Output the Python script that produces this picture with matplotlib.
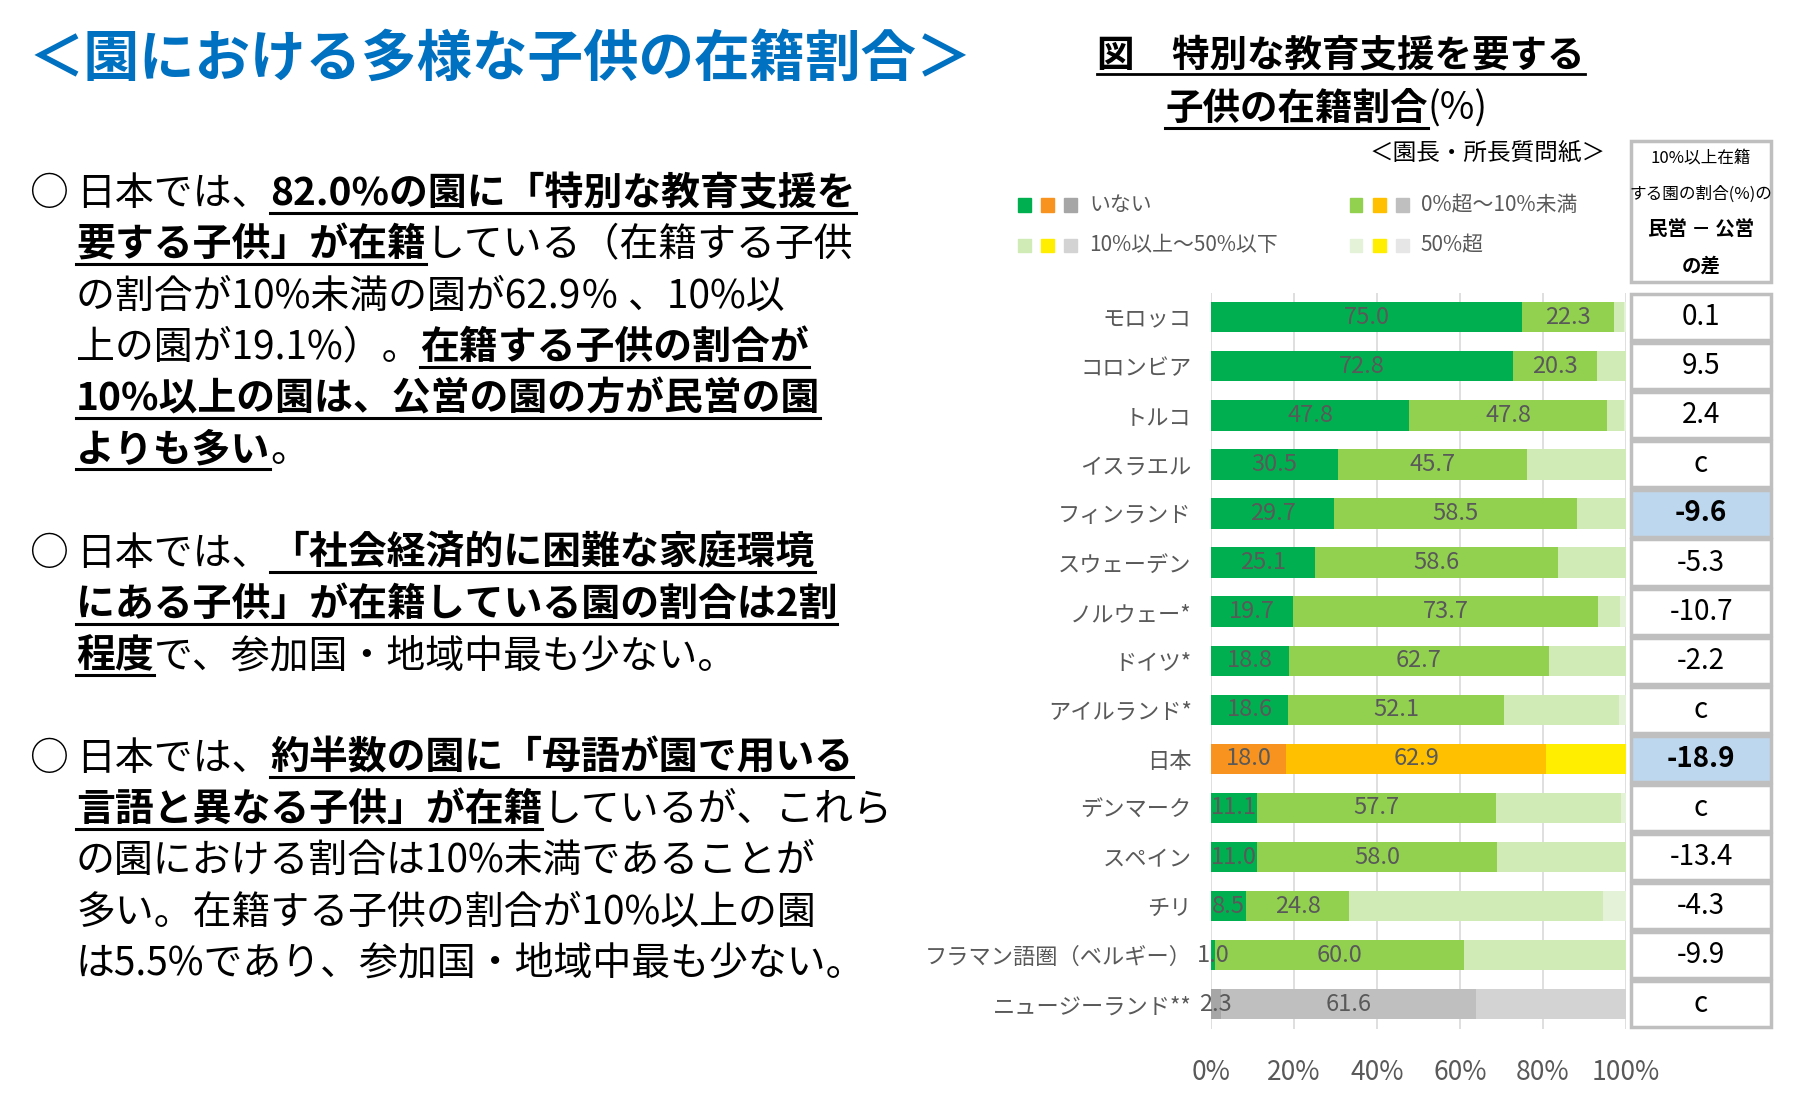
import matplotlib.pyplot as plt
from matplotlib.patches import Rectangle
from matplotlib.transforms import blended_transform_factory

plt.rcParams['font.family'] = ['Noto Sans CJK JP', 'DejaVu Sans']

countries = ["モロッコ", "コロンビア", "トルコ", "イスラエル", "フィンランド", "スウェーデン",
             "ノルウェー*", "ドイツ*", "アイルランド*", "日本", "デンマーク", "スペイン", "チリ",
             "フラマン語圏（ベルギー）", "ニュージーランド**"]
none_pct = [75.0, 72.8, 47.8, 30.5, 29.7, 25.1, 19.7, 18.8, 18.6, 18.0, 11.1, 11.0, 8.5, 1.0, 2.3]
under10 = [22.3, 20.3, 47.8, 45.7, 58.5, 58.6, 73.7, 62.7, 52.1, 62.9, 57.7, 58.0, 24.8, 60.0, 61.6]
from10to50 = [2.2, 6.9, 3.9, 23.8, 11.8, 16.3, 5.2, 18.5, 27.6, 0.0, 30.2, 31.0, 61.3, 39.0, 36.1]
over50 = [0.5, 0.0, 0.5, 0.0, 0.0, 0.0, 1.4, 0.0, 1.7, 19.1, 1.0, 0.0, 5.4, 0.0, 0.0]
diff_labels = ["0.1", "9.5", "2.4", "c", "-9.6", "-5.3", "-10.7", "-2.2", "c", "-18.9",
               "c", "-13.4", "-4.3", "-9.9", "c"]
highlight = ["フィンランド", "日本"]
x_ticks = [0, 20, 40, 60, 80, 100]

green = ["#00B050", "#92D050", "#D0EBB5", "#E4F2D8"]
japan = ["#F7931E", "#FFC000", "#FFEE00", "#FFEE00"]
grays = ["#A6A6A6", "#BFBFBF", "#D3D3D3", "#E6E6E6"]

W, H = 1560.0, 960.0
fig = plt.figure(figsize=(17.96, 11.06), dpi=100)
fig.patch.set_facecolor("white")
renderer = fig.canvas.get_renderer()


def fx(x):
    return x / W


def fy(y):
    return 1 - y / H


def runs(x, y, parts, size=28):
    # parts: list of (text, bold_underlined)
    cx = fx(x)
    for s, b in parts:
        t = fig.text(cx, fy(y), s, fontsize=size, fontweight="bold" if b else "normal",
                     va="baseline", ha="left", color="black")
        bb = t.get_window_extent(renderer).transformed(fig.transFigure.inverted())
        if b:
            fig.add_artist(plt.Line2D([cx, bb.x1], [fy(y) - 0.007] * 2, color="black",
                                      lw=2.2, transform=fig.transFigure))
        cx = bb.x1
    return cx


# left title
fig.text(fx(25), fy(52), "＜園における多様な子供の在籍割合＞", fontsize=40, fontweight="bold",
         color="#0070C0", va="center", ha="left")

paras = [
    (178, [[("日本では、", 0), ("82.0%の園に「特別な教育支援を", 1)],
           [("要する子供」が在籍", 1), ("している（在籍する子供", 0)],
           [("の割合が10%未満の園が62.9％ 、10%以", 0)],
           [("上の園が19.1%）。", 0), ("在籍する子供の割合が", 1)],
           [("10%以上の園は、公営の園の方が民営の園", 1)],
           [("よりも多い", 1), ("。", 0)]]),
    (490, [[("日本では、", 0), ("「社会経済的に困難な家庭環境", 1)],
           [("にある子供」が在籍している園の割合は2割", 1)],
           [("程度", 1), ("で、参加国・地域中最も少ない。", 0)]]),
    (668, [[("日本では、", 0), ("約半数の園に「母語が園で用いる", 1)],
           [("言語と異なる子供」が在籍", 1), ("しているが、これら", 0)],
           [("の園における割合は10%未満であることが", 0)],
           [("多い。在籍する子供の割合が10%以上の園", 0)],
           [("は5.5%であり、参加国・地域中最も少ない。", 0)]]),
]
for y0, lines in paras:
    fig.text(fx(25), fy(y0), "○", fontsize=28, va="baseline", ha="left")
    for i, parts in enumerate(lines):
        runs(66, y0 + i * 44.5, parts)

# chart title
t1 = fig.text(fx(1165), fy(58), "図　特別な教育支援を要する", fontsize=27, fontweight="bold",
              ha="center", va="baseline")
bb = t1.get_window_extent(renderer).transformed(fig.transFigure.inverted())
fig.add_artist(plt.Line2D([bb.x0, bb.x1], [fy(64)] * 2, color="black", lw=2,
                          transform=fig.transFigure))
end = runs(1012, 104, [("子供の在籍割合", 1)], size=27)
fig.text(end, fy(104), "(%)", fontsize=27, va="baseline", ha="left")
fig.text(fx(1292), fy(134), "＜園長・所長質問紙＞", fontsize=17, ha="center", va="center")

# legend
legend_items = [(890, 178, 0, "いない"), (1178, 178, 1, "0%超～10%未満"),
                (890, 213, 2, "10%以上～50%以下"), (1178, 213, 3, "50%超")]
for lx, ly, k, lab in legend_items:
    for j, pal in enumerate([green, japan, grays]):
        fig.add_artist(Rectangle((fx(lx + j * 20) - 0.0035, fy(ly) - 0.006), 0.007, 0.012,
                                 color=pal[k], transform=fig.transFigure))
    fig.text(fx(lx + 56), fy(ly), lab, fontsize=15, color="#595959", va="center", ha="left")

# bars
ax = fig.add_axes([fx(1052), fy(893), fx(1412) - fx(1052), fy(254) - fy(893)])
ypos = list(range(len(countries)))
segs = [none_pct, under10, from10to50, over50]
for i, c in enumerate(countries):
    pal = japan if c == "日本" else (grays if "ニュージーランド" in c else green)
    left = 0
    for k, seg in enumerate(segs):
        ax.barh(i, seg[i], left=left, height=0.62, color=pal[k], zorder=2)
        if k < 2:
            ax.text(left + seg[i] / 2, i, f"{seg[i]:.1f}", ha="center", va="center",
                    fontsize=17, color="#595959", zorder=3)
        left += seg[i]
ax.set_xlim(0, 100)
ax.set_ylim(len(countries) - 0.5, -0.5)
ax.set_xticks(x_ticks)
ax.set_xticklabels([f"{v}%" for v in x_ticks], fontsize=19, color="#595959")
ax.set_yticks(ypos)
ax.set_yticklabels(countries, fontsize=16, color="#595959")
ax.tick_params(length=0, axis="x", pad=22)
ax.tick_params(length=0, axis="y", pad=14)
ax.grid(axis="x", color="#D9D9D9", lw=1.2, zorder=0)
for s in ax.spines.values():
    s.set_visible(False)

# right table
tr = blended_transform_factory(fig.transFigure, ax.transData)
x0, x1 = fx(1417), fx(1538)
fig.add_artist(Rectangle((x0, fy(245)), x1 - x0, fy(122) - fy(245), facecolor="white",
                         edgecolor="#BFBFBF", lw=2.5, transform=fig.transFigure))
for j, s in enumerate(["10%以上在籍", "する園の割合(%)の", "民営 － 公営", "の差"]):
    fig.text((x0 + x1) / 2, fy(138 + j * 31), s, fontsize=12 if j < 2 else 14, ha="center",
             va="center", fontweight="bold" if j >= 2 else "normal")
for i, c in enumerate(countries):
    hl = c in highlight
    fig.add_artist(Rectangle((x0, i - 0.47), x1 - x0, 0.94,
                             facecolor="#BDD7EE" if hl else "white", edgecolor="#BFBFBF",
                             lw=2.5, transform=tr, clip_on=False))
    fig.text((x0 + x1) / 2, i, diff_labels[i], transform=tr, fontsize=20, ha="center",
             va="center", fontweight="bold" if hl else "normal")

fig.savefig("out.png", dpi=100, facecolor="white")
